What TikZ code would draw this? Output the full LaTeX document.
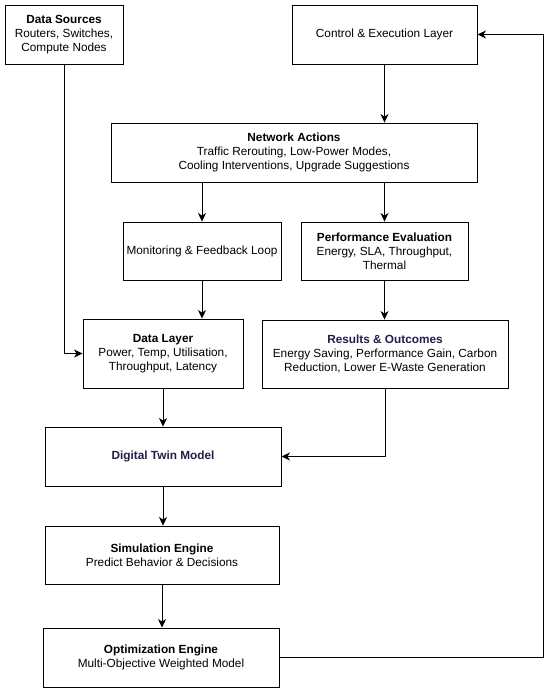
\documentclass[tikz,border=0pt]{standalone}
\usepackage{fontspec}
\setmainfont{Liberation Sans}
\usetikzlibrary{arrows.meta}
\definecolor{navy}{RGB}{32,30,72}
\begin{document}
\begin{tikzpicture}[x=1pt,y=-1pt]
		\tikzstyle{every node}+=[inner sep=0pt]
		\tikzstyle{box}=[draw=black, line width=0.9pt, align=center, font=\fontsize{11.8}{14}\selectfont]
		\tikzstyle{link}=[black, line width=0.9pt, -{Stealth[length=8.5pt,width=8pt,inset=2.5pt]}]
		\useasboundingbox (0,0) rectangle (550,691);
		\node [box, minimum width=118pt, minimum height=59pt] (src) at (64,34.5) {\textbf{Data Sources}\\Routers, Switches,\\Compute Nodes};
		\node [box, minimum width=185pt, minimum height=59pt] (ctrl) at (384.5,34.5) {Control \& Execution Layer};
		\node [box, minimum width=366pt, minimum height=59pt] (act) at (294,152.5) {\textbf{Network Actions}\\Traffic Rerouting, Low-Power Modes,\\Cooling Interventions, Upgrade Suggestions};
		\node [box, minimum width=158pt, minimum height=58pt] (mon) at (202,251) {Monitoring \& Feedback Loop};
		\node [box, minimum width=167pt, minimum height=58pt] (perf) at (384.5,251) {\textbf{Performance Evaluation}\\Energy, SLA, Throughput,\\Thermal};
		\node [box, minimum width=160pt, minimum height=69pt] (data) at (163,353.5) {\textbf{Data Layer}\\Power, Temp, Utilisation,\\Throughput, Latency};
		\node [box, minimum width=246pt, minimum height=68pt] (res) at (385,354) {\textcolor{navy}{\textbf{Results \& Outcomes}}\\Energy Saving, Performance Gain, Carbon\\Reduction, Lower E-Waste Generation};
		\node [box, minimum width=236pt, minimum height=59pt] (twin) at (163,456.5) {\textcolor{navy}{\textbf{Digital Twin Model}}};
		\node [box, minimum width=234pt, minimum height=58pt] (sim) at (162,555) {\textbf{Simulation Engine}\\Predict Behavior \& Decisions};
		\node [box, minimum width=236pt, minimum height=59pt] (opt) at (161,657.5) {\textbf{Optimization Engine}\\Multi-Objective Weighted Model};
		\coordinate (back) at (543,657.5);
		\draw [link] (ctrl.south) -- (ctrl.south |- act.north);
		\draw [link] (mon.north |- act.south) -- (mon.north);
		\draw [link] (perf.north |- act.south) -- (perf.north);
		\draw [link] (mon.south) -- (mon.south |- data.north);
		\draw [link] (perf.south) -- (perf.south |- res.north);
		\draw [link] (src.south) |- (data.west);
		\draw [link] (data.south) -- (data.south |- twin.north);
		\draw [link] (res.south) |- (twin.east);
		\draw [link] (twin.south) -- (twin.south |- sim.north);
		\draw [link] (sim.south) -- (sim.south |- opt.north);
		\draw [link] (opt.east) -- (back) |- (ctrl.east);
	\end{tikzpicture}
\end{document}
